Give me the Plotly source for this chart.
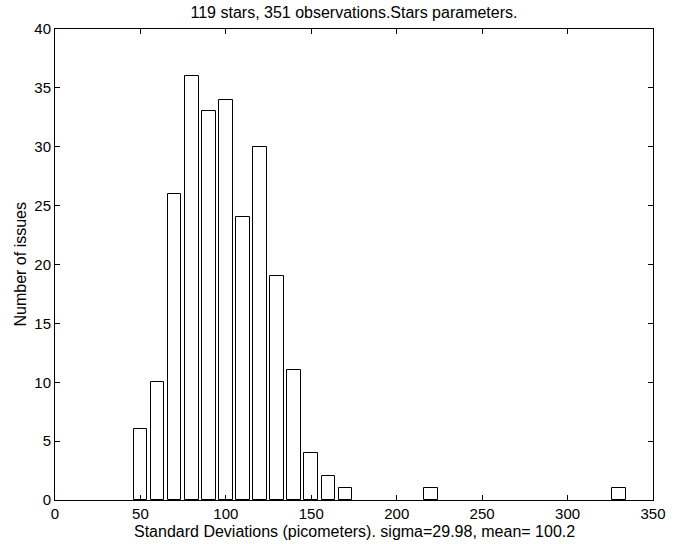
import plotly.graph_objects as go

bin_centers = [50, 60, 70, 80, 90, 100, 110, 120, 130, 140, 150, 160, 170, 220, 330]
counts = [6, 10, 26, 36, 33, 34, 24, 30, 19, 11, 4, 2, 1, 1, 1]
x_ticks = [0, 50, 100, 150, 200, 250, 300, 350]
y_ticks = [0, 5, 10, 15, 20, 25, 30, 35, 40]

fig = go.Figure(go.Bar(
    x=bin_centers, y=counts, width=8,
    marker=dict(color="white", line=dict(color="black", width=1)),
))

font = "Liberation Sans, Arial, Helvetica, sans-serif"
L, R, T, B = 55, 653, 29, 500
pw, ph = R - L, B - T
axis_common = dict(
    showline=True, linecolor="black", linewidth=1, mirror="ticks",
    ticks="inside", ticklen=5, tickcolor="black", tickwidth=1,
    showgrid=False, zeroline=False,
    tickfont=dict(family=font, size=15, color="black"),
)
fig.update_layout(
    width=680, height=544,
    margin=dict(l=L, r=680 - R, t=T, b=544 - B),
    paper_bgcolor="white", plot_bgcolor="white",
    showlegend=False, bargap=0,
    title=dict(text="119 stars, 351 observations.Stars parameters.",
               x=(L + R) / 2 / 680, xanchor="center", y=1 - 12 / 544, yanchor="middle",
               font=dict(family=font, size=16, color="black")),
    xaxis=dict(range=[0, 350], tickvals=x_ticks, ticktext=[str(v) for v in x_ticks],
               automargin=False, **axis_common),
    yaxis=dict(range=[0, 40], tickvals=y_ticks, ticktext=[str(v) for v in y_ticks],
               automargin=False, **axis_common),
    annotations=[
        dict(text="Standard Deviations (picometers). sigma=29.98, mean= 100.2",
             xref="paper", yref="paper", x=0.5, y=-(531 - B) / ph,
             xanchor="center", yanchor="middle", showarrow=False,
             font=dict(family=font, size=16, color="black")),
        dict(text="Number of issues", textangle=-90,
             xref="paper", yref="paper", x=-(L - 20) / pw, y=0.5,
             xanchor="center", yanchor="middle", showarrow=False,
             font=dict(family=font, size=16, color="black")),
    ],
)
fig.write_html("out.html")
